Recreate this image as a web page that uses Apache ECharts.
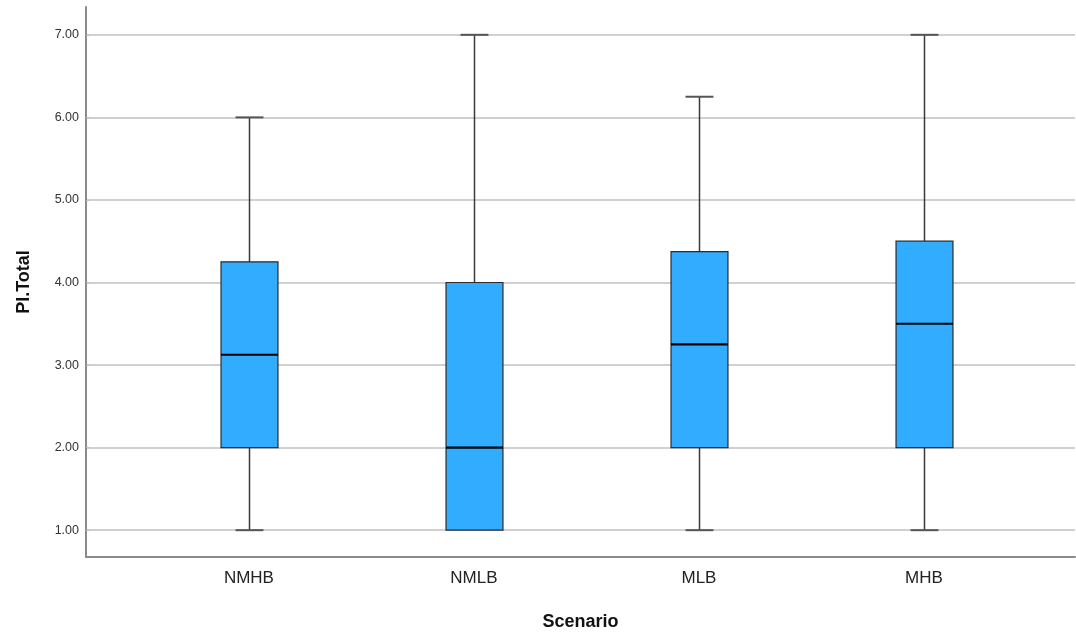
<!DOCTYPE html>
<html>
<head>
<meta charset="utf-8">
<script src="https://cdn.jsdelivr.net/npm/echarts@6/dist/echarts.min.js"></script>
<style>
  html, body { margin: 0; padding: 0; background: #fff; }
  #chart { width: 1076px; height: 636px; }
</style>
</head>
<body>
<div id="chart"></div>
<script>
// Scenario groups along the x axis
const categories = ['NMHB', 'NMLB', 'MLB', 'MHB'];
// Five-number summaries of PI.Total per scenario
const minimums  = [1.00, 1.00, 1.00, 1.00];
const lowerQ    = [2.00, 1.00, 2.00, 2.00];
const medians   = [3.125, 2.00, 3.25, 3.50];
const upperQ    = [4.25, 4.00, 4.375, 4.50];
const maximums  = [6.00, 7.00, 6.25, 7.00];
// Y tick labels
const yTicks = [1, 2, 3, 4, 5, 6, 7];

const FONT = '"Liberation Sans", Arial, sans-serif';

const data = categories.map((c, i) => [i, minimums[i], lowerQ[i], medians[i], upperQ[i], maximums[i]]);

const chart = echarts.init(document.getElementById('chart'), null, { renderer: 'canvas' });

function renderBox(params, api) {
  const x = api.value(0);
  const pMin = api.coord([x, api.value(1)]);
  const pQ1 = api.coord([x, api.value(2)]);
  const pMed = api.coord([x, api.value(3)]);
  const pQ3 = api.coord([x, api.value(4)]);
  const pMax = api.coord([x, api.value(5)]);
  const boxW = api.size([0.253, 0])[0];
  const capW = api.size([0.124, 0])[0];
  const cx = Math.round(pMed[0]) + 0.5;
  const children = [];
  const whisker = { stroke: '#3a3a3a', lineWidth: 1.5 };
  const cap = { stroke: '#555', lineWidth: 2 };
  if (pMax[1] < pQ3[1]) {
    children.push({ type: 'line', shape: { x1: cx, y1: pQ3[1], x2: cx, y2: pMax[1] }, style: whisker });
    children.push({ type: 'line', shape: { x1: cx - capW / 2, y1: pMax[1], x2: cx + capW / 2, y2: pMax[1] }, style: cap });
  }
  if (pMin[1] > pQ1[1]) {
    children.push({ type: 'line', shape: { x1: cx, y1: pQ1[1], x2: cx, y2: pMin[1] }, style: whisker });
    children.push({ type: 'line', shape: { x1: cx - capW / 2, y1: pMin[1], x2: cx + capW / 2, y2: pMin[1] }, style: cap });
  }
  children.push({
    type: 'rect',
    shape: { x: cx - boxW / 2, y: pQ3[1], width: boxW, height: pQ1[1] - pQ3[1] },
    style: { fill: '#31acff', stroke: '#2b2b2b', lineWidth: 1.2 }
  });
  children.push({
    type: 'line',
    shape: { x1: cx - boxW / 2, y1: pMed[1], x2: cx + boxW / 2, y2: pMed[1] },
    style: { stroke: '#000', lineWidth: 2.2 }
  });
  return { type: 'group', children };
}

chart.setOption({
  animation: false,
  backgroundColor: '#fff',
  grid: { left: 86, right: 1, top: 7, bottom: 74, containLabel: false },
  xAxis: {
    type: 'value',
    min: -0.724,
    max: 3.671,
    name: 'Scenario',
    nameLocation: 'middle',
    nameGap: 56,
    nameTextStyle: { fontFamily: FONT, fontSize: 18, fontWeight: 'bold', color: '#111' },
    axisLine: { show: true, onZero: false, lineStyle: { color: '#8a8a8a', width: 2 } },
    axisTick: { show: false },
    splitLine: { show: false },
    axisLabel: {
      customValues: categories.map((c, i) => i),
      formatter: v => categories[Math.round(v)],
      fontFamily: FONT, fontSize: 17, color: '#222', margin: 13
    }
  },
  yAxis: {
    type: 'value',
    min: 0.675,
    max: 7.337,
    name: 'PI.Total',
    nameLocation: 'middle',
    nameGap: 53,
    nameTextStyle: { fontFamily: FONT, fontSize: 18, fontWeight: 'bold', color: '#111' },
    axisLine: { show: true, onZero: false, lineStyle: { color: '#8a8a8a', width: 2 } },
    axisTick: { show: true, inside: true, length: 3, customValues: yTicks, lineStyle: { color: '#bbb' } },
    splitLine: { show: true, lineStyle: { color: '#d0d0d0', width: 2 } },
    axisLabel: {
      customValues: yTicks,
      formatter: v => v.toFixed(2),
      fontFamily: FONT, fontSize: 12.5, color: '#333', margin: 7
    }
  },
  series: [{
    type: 'custom',
    renderItem: renderBox,
    data: data,
    encode: { x: 0, y: [1, 2, 3, 4, 5] }
  }]
});
</script>
</body>
</html>
